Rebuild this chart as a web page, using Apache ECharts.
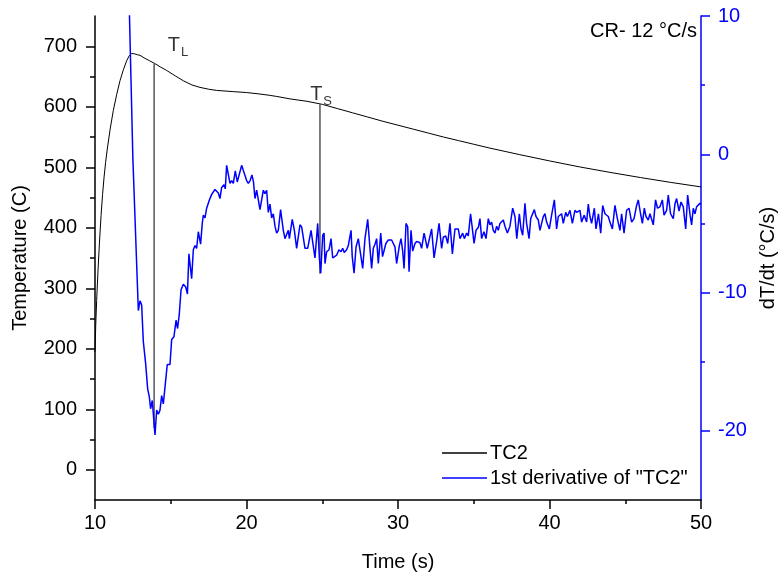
<!DOCTYPE html>
<html>
<head>
<meta charset="utf-8">
<script src="https://cdn.jsdelivr.net/npm/echarts@6/dist/echarts.min.js"></script>
<style>
  html, body { margin: 0; padding: 0; background: #ffffff; }
  #chart { width: 778px; height: 578px; }
</style>
</head>
<body>
<div id="chart"></div>
<script>
// Thermocouple TC2 cooling curve (temperature, left axis)
const tempTime = [10.0, 10.05, 10.11, 10.2, 10.3, 10.4, 10.5, 10.6, 10.7, 10.81, 11.0, 11.21, 11.43, 11.65, 11.87, 12.09, 12.25, 12.42, 12.6, 12.8, 12.97, 13.3, 13.6, 13.91, 14.3, 14.73, 15.3, 15.83, 16.4, 16.93, 17.5, 18.03, 19.13, 20.0, 20.89, 21.5, 22.0, 22.87, 24.0, 25.0, 26.0, 27.0, 28.0, 29.0, 30.0, 31.0, 32.0, 33.0, 34.0, 35.0, 36.0, 37.0, 38.0, 40.0, 42.0, 44.0, 46.0, 48.0, 50.0];
const tempValues = [195, 240, 280, 330, 378, 420, 455, 484, 508, 530, 563, 594, 620, 643, 661, 676, 684, 688, 687.5, 686, 685, 680, 676, 672, 666, 660, 651, 643, 636, 632, 629, 627, 625, 623.5, 621, 619, 617, 613, 609, 604, 597, 590, 583, 576, 569.5, 563, 556.5, 550, 544, 538, 532, 526.5, 521, 510.5, 500.5, 491.5, 483, 475, 467.5];

// First derivative of TC2 (cooling rate, right axis)
const rateTime = [12.2, 12.5, 12.86, 12.97, 13.08, 13.19, 13.34, 13.48, 13.58, 13.67, 13.78, 13.87, 13.96, 14.07, 14.18, 14.29, 14.4, 14.51, 14.66, 14.77, 14.95, 15.06, 15.21, 15.35, 15.45, 15.56, 15.68, 15.83, 15.99, 16.1, 16.2, 16.29, 16.38, 16.49, 16.6, 16.71, 16.82, 16.88, 16.97, 17.08, 17.15, 17.26, 17.37, 17.55, 17.7, 17.81, 17.92, 18.03, 18.14, 18.25, 18.36, 18.51, 18.6, 18.69, 18.8, 18.91, 19.02, 19.13, 19.26, 19.39, 19.5, 19.68, 19.83, 20.01, 20.12, 20.24, 20.36, 20.46, 20.56, 20.67, 20.78, 20.89, 21.0, 21.11, 21.22, 21.33, 21.44, 21.55, 21.66, 21.77, 21.88, 21.99, 22.1, 22.25, 22.43, 22.54, 22.65, 22.76, 22.83, 23.02, 23.16, 23.31, 23.53, 23.64, 23.86, 24.04, 24.26, 24.35, 24.52, 24.7, 24.81, 24.9, 25.03, 25.12, 25.18, 25.29, 25.45, 25.58, 25.69, 25.82, 25.95, 26.1, 26.24, 26.35, 26.45, 26.61, 26.72, 26.9, 26.98, 27.1, 27.23, 27.38, 27.5, 27.67, 27.82, 28.0, 28.15, 28.26, 28.37, 28.48, 28.59, 28.7, 28.86, 28.98, 29.09, 29.2, 29.36, 29.47, 29.58, 29.69, 29.8, 29.91, 30.09, 30.2, 30.31, 30.4, 30.53, 30.64, 30.73, 30.86, 30.97, 31.12, 31.23, 31.34, 31.45, 31.56, 31.72, 31.82, 31.93, 32.05, 32.22, 32.38, 32.55, 32.71, 32.88, 32.99, 33.15, 33.28, 33.43, 33.59, 33.76, 33.98, 34.09, 34.27, 34.38, 34.53, 34.64, 34.79, 34.9, 35.02, 35.15, 35.3, 35.41, 35.52, 35.67, 35.81, 35.96, 36.07, 36.18, 36.29, 36.4, 36.51, 36.62, 36.73, 36.95, 37.06, 37.22, 37.39, 37.57, 37.72, 37.84, 38.01, 38.12, 38.23, 38.38, 38.49, 38.65, 38.76, 38.89, 39.0, 39.11, 39.26, 39.37, 39.48, 39.59, 39.7, 39.81, 39.99, 40.14, 40.32, 40.47, 40.58, 40.69, 40.8, 40.91, 41.07, 41.18, 41.35, 41.51, 41.68, 41.79, 41.9, 42.01, 42.12, 42.29, 42.45, 42.56, 42.67, 42.78, 42.96, 43.07, 43.23, 43.38, 43.51, 43.66, 43.77, 43.88, 43.99, 44.15, 44.32, 44.48, 44.65, 44.76, 44.92, 45.09, 45.25, 45.42, 45.58, 45.75, 45.86, 46.01, 46.13, 46.26, 46.37, 46.52, 46.63, 46.74, 46.85, 47.0, 47.13, 47.29, 47.45, 47.56, 47.73, 47.84, 47.99, 48.17, 48.28, 48.39, 48.55, 48.68, 48.83, 48.99, 49.12, 49.28, 49.38, 49.49, 49.6, 49.71, 49.82, 49.93, 50.0];
const rateValues = [13.5, -0.3, -11.3, -10.6, -10.9, -13.55, -15.1, -17.0, -17.5, -18.4, -17.8, -17.8, -20.3, -18.5, -18.8, -18.5, -17.45, -18.05, -16.4, -15.2, -15.2, -13.4, -13.2, -12.0, -12.6, -11.6, -9.8, -9.4, -9.6, -10.1, -7.2, -7.2, -9.0, -6.9, -6.6, -6.8, -5.6, -5.5, -6.5, -5.0, -4.4, -4.6, -3.9, -3.3, -2.9, -2.8, -2.55, -2.6, -2.8, -3.2, -2.4, -2.2, -2.5, -0.8, -0.8, -2.1, -1.9, -2.1, -1.2, -2.0, -2.1, -0.8, -1.3, -1.9, -2.1, -1.9, -1.5, -2.0, -3.2, -2.6, -2.6, -4.0, -4.0, -2.6, -2.85, -2.6, -4.2, -3.6, -4.6, -4.3, -5.2, -5.7, -5.5, -4.0, -5.5, -6.1, -6.1, -5.5, -6.1, -4.7, -5.5, -6.8, -5.1, -5.25, -6.8, -6.8, -5.5, -5.6, -7.5, -5.0, -7.5, -8.6, -5.85, -5.7, -7.9, -7.05, -6.9, -6.1, -7.5, -7.5, -7.3, -6.9, -7.05, -6.8, -7.1, -6.9, -6.6, -5.5, -7.4, -8.6, -6.7, -6.1, -6.2, -8.25, -6.1, -4.7, -6.8, -8.25, -6.8, -6.5, -6.1, -7.9, -5.7, -7.4, -7.45, -6.45, -6.2, -6.3, -6.2, -6.45, -6.7, -7.9, -6.6, -6.1, -7.0, -8.25, -5.0, -5.25, -8.5, -5.5, -7.0, -6.45, -6.3, -6.2, -6.4, -6.8, -5.7, -6.2, -6.8, -6.8, -5.4, -7.5, -6.3, -5.0, -6.8, -6.0, -5.9, -6.45, -5.0, -7.2, -5.4, -5.4, -6.1, -5.7, -6.1, -5.7, -5.9, -4.3, -5.3, -6.45, -5.5, -5.3, -4.65, -6.1, -5.6, -6.1, -4.65, -5.1, -4.9, -5.5, -5.7, -5.2, -5.5, -5.0, -4.75, -5.2, -5.7, -5.2, -3.9, -4.5, -6.1, -4.3, -5.4, -5.85, -3.55, -5.0, -6.1, -4.65, -4.65, -4.0, -4.5, -4.75, -5.5, -5.0, -4.5, -4.3, -4.9, -5.4, -4.4, -3.3, -5.4, -4.5, -4.4, -4.3, -5.0, -4.2, -4.5, -4.05, -5.0, -4.05, -4.2, -4.3, -4.05, -4.9, -4.4, -4.9, -3.6, -4.5, -5.0, -3.9, -5.4, -4.3, -5.7, -3.7, -4.3, -4.2, -4.5, -4.9, -5.4, -3.7, -4.65, -5.5, -4.3, -5.7, -4.05, -3.9, -4.9, -4.65, -3.7, -3.3, -4.3, -5.0, -3.9, -4.5, -4.75, -4.3, -4.4, -5.1, -3.3, -3.9, -3.8, -3.3, -4.4, -4.05, -2.95, -4.3, -4.65, -3.6, -3.2, -4.1, -3.45, -3.8, -5.4, -2.95, -4.4, -5.1, -3.9, -4.3, -3.8, -3.7, -3.55, -3.6];

// Liquidus / solidus markers: time, temperature at the curve, lower end of the drop line
const markerNames = ['L', 'S'];
const markerTime = [13.9, 24.85];
const markerTop = [671, 604];
const markerBottom = [69, 324];
// label anchor for each marker (time, temperature)
const markerLabelTime = [14.8, 24.2];
const markerLabelTemp = [701, 620];

// axis ticks
const tempTicks = [0, 100, 200, 300, 400, 500, 600, 700];
const tempMinorTicks = [50, 150, 250, 350, 450, 550, 650];
const rateTicks = [-20, -10, 0, 10];
const rateMinorTicks = [-15, -5, 5];

const FONT = "'Liberation Sans', Arial, sans-serif";
const BLUE = '#0000ff';

const zip = (xs, ys) => xs.map((x, i) => [x, ys[i]]);

const chart = echarts.init(document.getElementById('chart'), null, { renderer: 'canvas' });

const markerSeries = markerTime.map((t, i) => ({
  type: 'line',
  name: 'marker' + markerNames[i],
  yAxisIndex: 0,
  data: [[t, markerTop[i]], [t, markerBottom[i]]],
  symbol: 'none',
  silent: true,
  lineStyle: { color: '#000000', width: 1 },
  z: 3
}));

const option = {
  animation: false,
  backgroundColor: '#ffffff',
  textStyle: { fontFamily: FONT },
  grid: { left: 95, right: 77, top: 16, bottom: 78, containLabel: false, outerBoundsMode: 'none' },
  legend: {
    data: ['TC2', '1st derivative of "TC2"'],
    orient: 'vertical',
    left: 442,
    top: 443,
    padding: 0,
    icon: 'rect',
    itemWidth: 45,
    itemHeight: 1.5,
    itemGap: 5,
    textStyle: { fontFamily: FONT, fontSize: 20, color: '#000', lineHeight: 20, padding: [0, 0, 0, -2] }
  },
  xAxis: {
    type: 'value',
    min: 10, max: 50, interval: 10,
    name: 'Time (s)',
    nameLocation: 'middle',
    nameGap: 52,
    nameTextStyle: { fontFamily: FONT, fontSize: 20, color: '#000' },
    axisLine: { show: true, onZero: false, lineStyle: { color: '#000', width: 1.5 } },
    axisTick: { show: true, inside: false, length: 9, lineStyle: { color: '#000', width: 1.5 } },
    minorTick: { show: true, splitNumber: 2, length: 4, lineStyle: { color: '#000', width: 1.5 } },
    axisLabel: { fontFamily: FONT, fontSize: 20, color: '#000', margin: 13 },
    splitLine: { show: false }
  },
  yAxis: [
    {
      type: 'value', position: 'left',
      min: -50, max: 750,
      name: 'Temperature (C)',
      nameLocation: 'middle',
      nameRotate: 90,
      nameGap: 65,
      nameTextStyle: { fontFamily: FONT, fontSize: 20, color: '#000' },
      axisLine: { show: true, onZero: false, lineStyle: { color: '#000', width: 1.5 } },
      axisTick: { show: true, length: 9, customValues: tempTicks, lineStyle: { color: '#000', width: 1.5 } },
      axisLabel: { fontFamily: FONT, fontSize: 20, color: '#000', margin: 18, customValues: tempTicks },
      splitLine: { show: false }
    },
    {
      type: 'value', position: 'right',
      min: -25, max: 10,
      name: 'dT/dt (\u00B0C/s)',
      nameLocation: 'middle',
      nameRotate: 90,
      nameGap: 57,
      nameTextStyle: { fontFamily: FONT, fontSize: 20, color: '#000' },
      axisLine: { show: true, onZero: false, lineStyle: { color: BLUE, width: 1.5 } },
      axisTick: { show: true, length: 9, customValues: rateTicks, lineStyle: { color: BLUE, width: 1.5 } },
      axisLabel: { fontFamily: FONT, fontSize: 20, color: BLUE, margin: 17, customValues: rateTicks },
      splitLine: { show: false }
    },
    {
      type: 'value', position: 'left',
      min: -50, max: 750,
      axisLine: { show: false },
      axisTick: { show: true, length: 5, customValues: tempMinorTicks, lineStyle: { color: '#000', width: 1.5 } },
      axisLabel: { show: false },
      splitLine: { show: false }
    },
    {
      type: 'value', position: 'right',
      min: -25, max: 10,
      axisLine: { show: false },
      axisTick: { show: true, length: 4, customValues: rateMinorTicks, lineStyle: { color: BLUE, width: 1.5 } },
      axisLabel: { show: false },
      splitLine: { show: false }
    }
  ],
  graphic: [
    {
      type: 'text',
      right: 81,
      top: 21,
      style: { text: 'CR- 12 \u00B0C/s', fontFamily: FONT, fontSize: 20, fill: '#000' }
    }
  ],
  series: [
    {
      type: 'line',
      name: 'TC2',
      yAxisIndex: 0,
      data: zip(tempTime, tempValues),
      symbol: 'none',
      smooth: false,
      itemStyle: { color: '#000000' },
      lineStyle: { color: '#000000', width: 1 },
      z: 4
    },
    {
      type: 'line',
      name: '1st derivative of "TC2"',
      yAxisIndex: 1,
      data: zip(rateTime, rateValues),
      symbol: 'none',
      itemStyle: { color: BLUE },
      lineStyle: { color: BLUE, width: 1.5 },
      clip: true,
      z: 5
    },
    ...markerSeries,
    {
      type: 'scatter',
      name: 'markerLabels',
      yAxisIndex: 0,
      symbolSize: 0,
      silent: true,
      data: markerNames.map((n, i) => ({
        value: [markerLabelTime[i], markerLabelTemp[i]],
        label: {
          show: true,
          position: [0, 0],
          align: 'left',
          verticalAlign: 'middle',
          formatter: '{t|T}{s|' + n + '}',
          rich: {
            t: { fontFamily: FONT, fontSize: 20, color: '#000', lineHeight: 20, verticalAlign: 'top' },
            s: { fontFamily: FONT, fontSize: 13, color: '#000', lineHeight: 13, padding: [10, 0, 0, 1], verticalAlign: 'top' }
          }
        }
      }))
    }
  ]
};

chart.setOption(option);
</script>
</body>
</html>
